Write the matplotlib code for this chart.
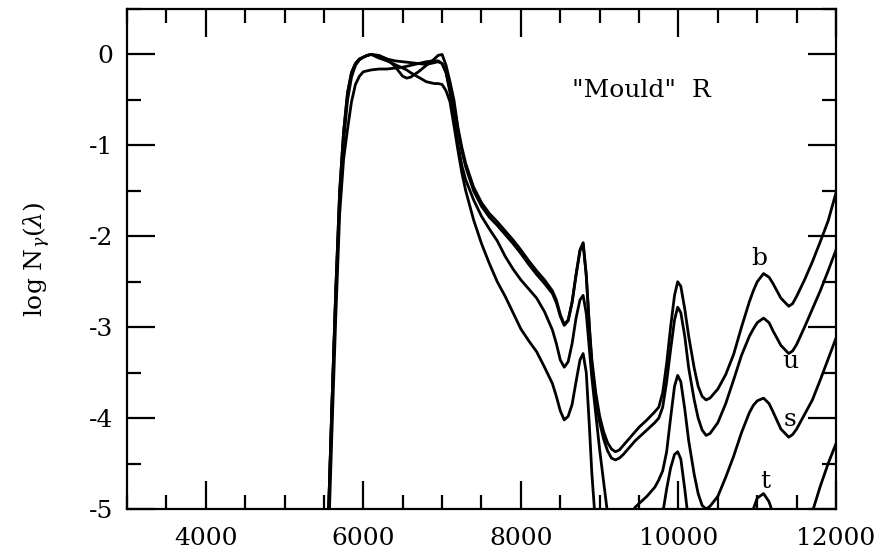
import matplotlib
matplotlib.use("Agg")
import matplotlib.pyplot as plt
from matplotlib.ticker import MultipleLocator

plt.rcParams['font.family'] = ['DejaVu Serif']
plt.rcParams['mathtext.fontset'] = 'dejavuserif'
plt.rcParams['axes.unicode_minus'] = False

# wavelength grid (Angstrom), shared by all four curves
wavelength = [5500, 5560, 5600, 5650, 5700, 5750, 5800, 5850, 5900, 5950,
              6000, 6050, 6100, 6200, 6300, 6400, 6500, 6550, 6600, 6700,
              6800, 6900, 6950, 7000, 7050, 7100, 7150, 7200, 7250, 7300,
              7400, 7500, 7600, 7700, 7800, 7900, 8000, 8100, 8200, 8300,
              8400, 8450, 8500, 8550, 8600, 8650, 8700, 8750, 8790, 8830,
              8870, 8900, 8950, 9000, 9050, 9100, 9150, 9200, 9250, 9300,
              9400, 9450, 9500, 9600, 9700, 9750, 9800, 9850, 9900, 9950,
              9990, 10030, 10080, 10130, 10200, 10250, 10300, 10350, 10400, 10500,
              10600, 10700, 10800, 10900, 10950, 11000, 11080, 11150, 11200, 11300,
              11400, 11450, 11500, 11600, 11700, 11800, 11900, 12000]

# log N_gamma(lambda) (values < -5 fall below the frame)
logn_b = [-6.0, -5.0, -3.9, -2.6, -1.5, -0.85, -0.42, -0.2, -0.1, -0.05,
          -0.03, -0.01, 0.0, -0.01, -0.05, -0.13, -0.24, -0.26, -0.25, -0.19,
          -0.12, -0.05, -0.01, 0.0, -0.12, -0.3, -0.5, -0.8, -1.02, -1.2,
          -1.46, -1.63, -1.75, -1.84, -1.94, -2.04, -2.15, -2.27, -2.38, -2.48,
          -2.6, -2.7, -2.86, -2.97, -2.92, -2.72, -2.42, -2.15, -2.07, -2.42,
          -3.0, -3.35, -3.72, -3.98, -4.15, -4.27, -4.34, -4.37, -4.35, -4.3,
          -4.2, -4.15, -4.1, -4.02, -3.93, -3.88, -3.72, -3.4, -3.0, -2.65,
          -2.5, -2.55, -2.8, -3.1, -3.45, -3.65, -3.76, -3.8, -3.78, -3.68,
          -3.52, -3.3, -3.0, -2.72, -2.6, -2.5, -2.41, -2.45, -2.52, -2.68,
          -2.77, -2.74, -2.66, -2.48, -2.28, -2.06, -1.83, -1.52]

logn_u = [-6.0, -5.0, -3.9, -2.6, -1.5, -0.85, -0.42, -0.2, -0.1, -0.05,
          -0.03, -0.01, 0.0, -0.02, -0.05, -0.07, -0.08, -0.085, -0.09, -0.1,
          -0.11, -0.09, -0.08, -0.1, -0.2, -0.38, -0.55, -0.82, -1.06, -1.24,
          -1.5, -1.67, -1.79, -1.88, -1.98, -2.08, -2.19, -2.31, -2.42, -2.52,
          -2.63, -2.73, -2.88, -2.98, -2.93, -2.73, -2.43, -2.16, -2.08, -2.44,
          -3.02, -3.4, -3.78, -4.05, -4.23, -4.36, -4.44, -4.46, -4.44, -4.4,
          -4.3, -4.25, -4.21, -4.13, -4.05, -4.0, -3.88, -3.6, -3.25, -2.92,
          -2.78, -2.84, -3.1, -3.45, -3.8, -4.0, -4.13, -4.19, -4.17, -4.05,
          -3.84, -3.58, -3.31, -3.1, -3.02, -2.95, -2.9, -2.95, -3.04, -3.2,
          -3.29, -3.26, -3.19, -3.0, -2.8, -2.6, -2.38, -2.15]

logn_s = [-6.0, -5.3, -4.2, -2.9, -1.75, -1.15, -0.82, -0.52, -0.33, -0.24,
          -0.19, -0.18, -0.17, -0.16, -0.16, -0.15, -0.14, -0.13, -0.12, -0.1,
          -0.08, -0.07, -0.07, -0.1, -0.2, -0.42, -0.7, -0.98, -1.22, -1.38,
          -1.6, -1.78, -1.92, -2.05, -2.22, -2.36, -2.48, -2.58, -2.68, -2.83,
          -3.03, -3.18, -3.36, -3.44, -3.38, -3.18, -2.9, -2.7, -2.65, -2.85,
          -3.25, -3.55, -3.95, -4.35, -4.7, -5.05, -5.4, -5.6, -5.55, -5.4,
          -5.05, -4.98, -4.94, -4.86, -4.76, -4.68, -4.58, -4.37, -4.0, -3.65,
          -3.53, -3.6, -3.9, -4.25, -4.62, -4.83, -4.96, -5.0, -4.97, -4.86,
          -4.65, -4.42, -4.16, -3.94, -3.86, -3.81, -3.78, -3.84, -3.93, -4.12,
          -4.21, -4.18, -4.12, -3.96, -3.8, -3.58, -3.35, -3.12]

logn_t = [-6.0, -5.0, -3.9, -2.65, -1.6, -0.95, -0.5, -0.25, -0.12, -0.06,
          -0.03, -0.01, 0.0, -0.04, -0.07, -0.11, -0.15, -0.17, -0.2, -0.25,
          -0.3, -0.32, -0.32, -0.33, -0.4, -0.52, -0.78, -1.05, -1.3, -1.5,
          -1.82, -2.08, -2.3, -2.5, -2.66, -2.84, -3.02, -3.15, -3.27, -3.44,
          -3.62, -3.76, -3.92, -4.02, -3.98, -3.85, -3.6, -3.36, -3.29, -3.5,
          -4.1, -4.6, -5.2, -5.7, -6.0, -6.0, -6.0, -6.0, -6.0, -6.0,
          -6.0, -6.0, -6.0, -6.0, -6.0, -6.0, -5.05, -4.78, -4.55, -4.4,
          -4.37, -4.45, -4.78, -5.15, -5.6, -6.0, -6.0, -6.0, -6.0, -6.0,
          -6.0, -6.0, -6.0, -5.3, -5.0, -4.88, -4.83, -4.92, -5.05, -5.4,
          -5.5, -5.45, -5.4, -5.2, -5.03, -4.75, -4.5, -4.28]

curve_labels = ['b', 'u', 's', 't']
label_wave = [11020, 11420, 11420, 11100]
label_logn = [-2.24, -3.38, -4.02, -4.70]

fig = plt.figure(figsize=(8.86, 5.56), dpi=100)
ax = fig.add_axes([0.1433, 0.0845, 0.8003, 0.8993])

for vals in (logn_b, logn_u, logn_s, logn_t):
    ax.plot(wavelength, vals, color='black', lw=2.0, solid_joinstyle='round')

for lab, lx, ly in zip(curve_labels, label_wave, label_logn):
    ax.text(lx, ly, lab, fontsize=18, ha='center', va='center')

ax.text(9530, -0.40, '"Mould"  R', fontsize=18, ha='center', va='center')

ax.set_xlim(3000, 12000)
ax.set_ylim(-5, 0.5)
ax.xaxis.set_major_locator(MultipleLocator(2000))
ax.xaxis.set_minor_locator(MultipleLocator(500))
ax.yaxis.set_major_locator(MultipleLocator(1))
ax.yaxis.set_minor_locator(MultipleLocator(0.5))
ax.set_xticks([4000, 6000, 8000, 10000, 12000])
ax.tick_params(which='both', direction='in', top=True, right=True, width=1.6)
ax.tick_params(which='major', length=20, labelsize=18)
ax.tick_params(axis='x', which='major', pad=13)
ax.tick_params(axis='y', which='major', pad=10)
ax.tick_params(which='minor', length=10)
for sp in ax.spines.values():
    sp.set_linewidth(1.6)

ax.set_ylabel(r'log N$_\gamma$($\lambda$)', fontsize=18, labelpad=26)

fig.savefig('out.png', dpi=100)
